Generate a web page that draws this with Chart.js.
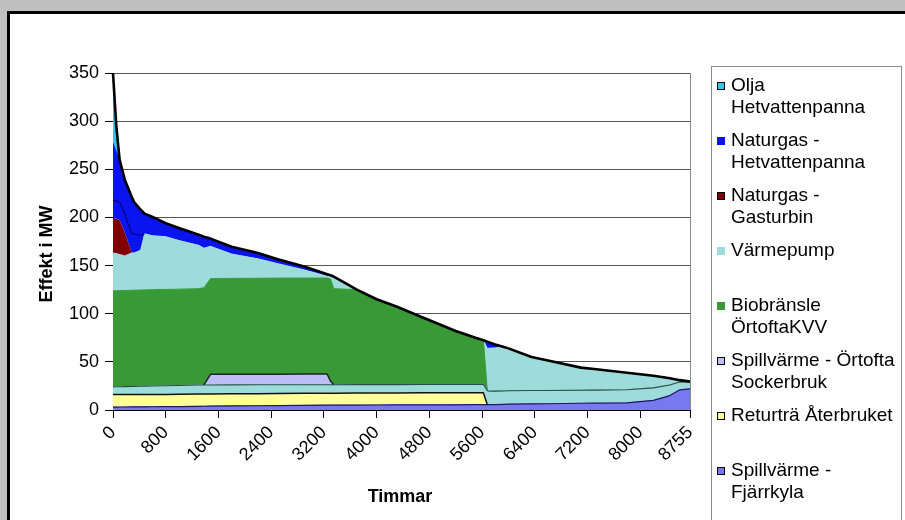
<!DOCTYPE html>
<html>
<head>
<meta charset="utf-8">
<script src="https://cdn.jsdelivr.net/npm/chart.js@4.4.1/dist/chart.umd.min.js"></script>
<style>
  html, body { margin: 0; padding: 0; width: 905px; height: 520px; overflow: hidden; background: #c0c0c0; }
  #frame { position: absolute; left: 7px; top: 11px; width: 920px; height: 540px; background: #fff;
           border-left: 3px solid #000; border-top: 3px solid #000; }
  #c { position: absolute; left: 0; top: 0; }
</style>
</head>
<body>
<div id="frame"></div>
<canvas id="c" width="905" height="520"></canvas>
<script>
// Hours of the year (duration curve, sorted by load)
const hours = [0, 50, 100, 180, 280, 320, 420, 480, 600, 800,
  1000, 1300, 1380, 1480, 1800, 2200, 2500, 2900, 3250, 3300,
  3350, 3700, 4000, 4300, 4700, 5200, 5500, 5620, 5680, 5720,
  5800, 5930, 6000, 6350, 6600, 7100, 7300, 7800, 8200, 8450,
  8600, 8755];

// Tick labels on the hour axis
const hourTicks = [0, 800, 1600, 2400, 3200, 4000, 4800, 5600, 6400, 7200, 8000, 8755];

// Heat output per production unit, MW (stacked from the bottom up)
const fjarrkyla = [3, 3, 3.1, 3.1, 3.2, 3.2, 3.3, 3.3, 3.4, 3.5,
  3.6, 3.8, 3.9, 4, 4.2, 4.4, 4.6, 4.8, 5, 5,
  5, 5.1, 5.2, 5.3, 5.3, 5.4, 5.5, 5.5, 5.5, 5.5,
  5.6, 5.8, 6, 6.3, 6.5, 7, 7.1, 7.5, 10, 15,
  21, 22];
const returtra = [13, 13, 12.9, 12.9, 12.9, 12.9, 12.8, 12.9, 12.8, 12.7,
  12.7, 12.7, 12.6, 12.6, 12.6, 12.6, 12.5, 12.5, 12.5, 12.5,
  12.5, 12.5, 12.5, 12.4, 12.5, 12.5, 12.5, 12.5, 0, 0,
  0, 0, 0, 0, 0, 0, 0, 0, 0, 0,
  0, 0];
const varmepumpBas = [8, 8.1, 8.2, 8.3, 8.4, 8.4, 8.6, 8.6, 8.8, 9,
  9.1, 9.5, 9.5, 9.4, 9.3, 9.2, 9.1, 9, 8.8, 8.8,
  8.8, 8.8, 8.7, 8.7, 8.7, 8.6, 8.5, 8.5, 14.5, 14,
  14, 14, 14, 13.9, 13.8, 13.5, 13.5, 13.5, 13, 11,
  8, 7.5];
const sockerbruk = [0, 0, 0, 0, 0, 0, 0, 0, 0, 0,
  0, 0, 0, 11, 10.9, 11, 11, 11, 11, 3.7,
  0, 0, 0, 0, 0, 0, 0, 0, 0, 0,
  0, 0, 0, 0, 0, 0, 0, 0, 0, 0,
  0, 0];
const biobransle = [99.7, 99.7, 99.8, 99.7, 99.8, 99.9, 99.9, 99.9, 100, 100,
  100.1, 100, 101, 99.5, 99.7, 99.6, 99.8, 99.7, 99.7, 106,
  99.7, 98.6, 88.6, 81.1, 69.5, 55.5, 48.5, 46, 0, 0,
  0, 0, 0, 0, 0, 0, 0, 0, 0, 0,
  0, 0];
const varmepump = [39.3, 38.7, 37.5, 36, 38.7, 38.6, 41.4, 58.3, 56, 54.8,
  50.5, 45, 41, 33.5, 25.3, 20.2, 15, 8.5, 2, 2.5,
  11, 0, 0, 0, 0, 0, 0, 0, 44, 44.7,
  44.9, 45.7, 44, 34.8, 31.2, 23.5, 21.9, 17.7, 12.5, 7,
  2, 0];
const gasturbin = [36, 36, 35.5, 24, 1, 0, 0, 0, 0, 0,
  0, 0, 0, 0, 0, 0, 0, 0, 0, 0,
  0, 0, 0, 0, 0, 0, 0, 0, 0, 0,
  0, 0, 0, 0, 0, 0, 0, 0, 0, 0,
  0, 0];
const naturgasSpets = [19, 18.5, 19, 19, 20, 19.5, 15.5, 0, 0, 0,
  0, 0, 0, 0, 0, 0, 0, 0, 0, 0,
  0, 0, 0, 0, 0, 0, 0, 0, 0, 0,
  0, 0, 0, 0, 0, 0, 0, 0, 0, 0,
  0, 0];
const naturgasHvp = [59, 51, 44, 36, 38, 33.5, 26.5, 21, 19.5, 14,
  13, 11, 12, 8, 7.5, 6, 4.6, 3.5, 2, 1.5,
  1.5, 0, 0, 0, 0, 0, 0, 0, 7, 5.8,
  3.5, 0, 0, 0, 0, 0, 0, 0, 0, 0,
  0, 0];
const olja = [73, 27, 0, 0, 0, 0, 0, 0, 0, 0,
  0, 0, 0, 0, 0, 0, 0, 0, 0, 0,
  0, 0, 0, 0, 0, 0, 0, 0, 0, 0,
  0, 0, 0, 0, 0, 0, 0, 0, 0, 0,
  0, 0];

const FONT = "'Liberation Sans', Arial, Helvetica, sans-serif";
Chart.defaults.font.family = FONT;
Chart.defaults.color = '#000';

// One stacked area layer. `outline` (optional) is a dark edge stroked along the
// layer's top wherever the layer is not empty.
function layer(label, values, fillColor, edgeWidth, legendLines, markerBorder, outline, first) {
  return {
    label: label,
    values: values,
    data: hours.map((h, i) => ({ x: h, y: values[i] })),
    backgroundColor: fillColor,
    borderColor: fillColor,
    borderWidth: edgeWidth,
    fill: first ? 'origin' : '-1',
    pointRadius: 0,
    pointHoverRadius: 0,
    tension: 0,
    stack: 'heat',
    legendLines: legendLines,
    markerBorder: markerBorder,
    outline: outline
  };
}

const C = {
  fjarrkyla: '#7878F0',
  returtra: '#FFFF99',
  varmepump: '#9EDCDC',
  sockerbruk: '#BEBEF6',
  bio: '#379A37',
  gas: '#800000',
  naturgas: '#0A14EE',
  olja: '#33C6EC'
};

const layers = [
  layer('Spillvärme - Fjärrkyla', fjarrkyla, C.fjarrkyla, 1, ['Spillvärme -', 'Fjärrkyla'], true,
        { color: '#1c1c60', width: 1.2 }, true),
  layer('Returträ Återbruket', returtra, C.returtra, 1, ['Returträ Återbruket'], true,
        { color: '#111', width: 1.5 }),
  layer('Värmepump (bas)', varmepumpBas, C.varmepump, 1, null, false,
        { color: '#2c4c4c', width: 1.1 }),
  layer('Spillvärme - Örtofta Sockerbruk', sockerbruk, C.sockerbruk, 0, ['Spillvärme - Örtofta', 'Sockerbruk'], true,
        { color: '#222', width: 1.5 }),
  layer('Biobränsle ÖrtoftaKVV', biobransle, C.bio, 1, ['Biobränsle', 'ÖrtoftaKVV'], false, null),
  layer('Värmepump', varmepump, C.varmepump, 1, ['Värmepump'], false, null),
  layer('Naturgas - Gasturbin', gasturbin, C.gas, 0, ['Naturgas -', 'Gasturbin'], true, null),
  layer('Naturgas (spets)', naturgasSpets, C.naturgas, 0, null, false,
        { color: '#00007a', width: 1.2 }),
  layer('Naturgas - Hetvattenpanna', naturgasHvp, C.naturgas, 1, ['Naturgas -', 'Hetvattenpanna'], false, null),
  // the top layer's edge is the total demand curve
  layer('Olja Hetvattenpanna', olja, C.olja, 1, ['Olja', 'Hetvattenpanna'], true,
        { color: '#000', width: 2.6, always: true })
];

// Dark edges along the stacked layers, using the points the chart has placed
const outlines = {
  id: 'outlines',
  afterDatasetsDraw(chart) {
    const ctx = chart.ctx;
    const area = chart.chartArea;
    ctx.save();
    ctx.beginPath();
    ctx.rect(area.left - 2, area.top - 2, area.right - area.left + 4, area.bottom - area.top + 4);
    ctx.clip();
    ctx.lineJoin = 'round';
    ctx.lineCap = 'butt';
    chart.data.datasets.forEach((ds, di) => {
      if (!ds.outline) return;
      const pts = chart.getDatasetMeta(di).data;
      const vals = ds.values;
      ctx.strokeStyle = ds.outline.color;
      ctx.lineWidth = ds.outline.width;
      ctx.beginPath();
      let pen = false;
      for (let i = 1; i < pts.length; i++) {
        const show = ds.outline.always || vals[i - 1] !== 0 || vals[i] !== 0;
        if (show) {
          if (!pen) { ctx.moveTo(pts[i - 1].x, pts[i - 1].y); pen = true; }
          ctx.lineTo(pts[i].x, pts[i].y);
        } else {
          pen = false;
        }
      }
      ctx.stroke();
    });
    ctx.restore();
  }
};

const decorations = {
  id: 'decorations',
  afterDraw(chart) {
    const ctx = chart.ctx;
    const area = chart.chartArea;
    ctx.save();

    // right edge of the plot area
    ctx.strokeStyle = '#8a8a8a';
    ctx.lineWidth = 1;
    ctx.beginPath();
    ctx.moveTo(Math.round(area.right) + 0.5, area.top);
    ctx.lineTo(Math.round(area.right) + 0.5, area.bottom);
    ctx.stroke();

    // axis titles
    ctx.fillStyle = '#000';
    ctx.font = 'bold 18px ' + FONT;
    ctx.textAlign = 'center';
    ctx.textBaseline = 'middle';
    ctx.fillText('Timmar', 400, 497);
    ctx.save();
    ctx.translate(47, 254);
    ctx.rotate(-Math.PI / 2);
    ctx.fillText('Effekt i MW', 0, 0);
    ctx.restore();

    // legend box
    const boxX = 711, boxY = 66;
    ctx.strokeStyle = '#8c8c8c';
    ctx.lineWidth = 1;
    ctx.strokeRect(boxX + 0.5, boxY + 0.5, 190, 480);

    const entries = chart.data.datasets.filter(d => d.legendLines).reverse();
    ctx.font = '19px ' + FONT;
    ctx.textAlign = 'left';
    entries.forEach((d, i) => {
      const y = boxY + 20 + i * 55;
      ctx.fillStyle = d.backgroundColor;
      ctx.fillRect(717, y - 4, 8, 8);
      if (d.markerBorder) {
        ctx.strokeStyle = '#000';
        ctx.strokeRect(717.5, y - 3.5, 7, 7);
      }
      ctx.fillStyle = '#000';
      d.legendLines.forEach((line, k) => ctx.fillText(line, 731, y + k * 22));
    });
    ctx.restore();
  }
};

new Chart(document.getElementById('c'), {
  type: 'line',
  data: { datasets: layers },
  options: {
    responsive: false,
    animation: false,
    events: [],
    layout: { padding: { top: 73, right: 215, left: 0, bottom: 0 } },
    plugins: { legend: { display: false }, tooltip: { enabled: false } },
    scales: {
      x: {
        type: 'linear',
        min: 0,
        max: 8755,
        afterBuildTicks: s => { s.ticks = hourTicks.map(v => ({ value: v })); },
        afterFit: s => { s.height = 110; },
        ticks: {
          autoSkip: false,
          minRotation: 45,
          maxRotation: 45,
          padding: 4,
          font: { size: 18 },
          color: '#000',
          callback: v => String(v)
        },
        grid: { display: true, drawOnChartArea: false, drawTicks: true, tickLength: 8, tickColor: '#000', color: '#000' },
        border: { display: true, color: '#000', width: 1 }
      },
      y: {
        stacked: true,
        min: 0,
        max: 350,
        afterFit: s => { s.width = 113; },
        ticks: { stepSize: 50, padding: 6, font: { size: 18 }, color: '#000' },
        grid: { color: '#555', lineWidth: 1, tickColor: '#000', tickLength: 8 },
        border: { display: true, color: '#000', width: 1 }
      }
    }
  },
  plugins: [outlines, decorations]
});
</script>
</body>
</html>
